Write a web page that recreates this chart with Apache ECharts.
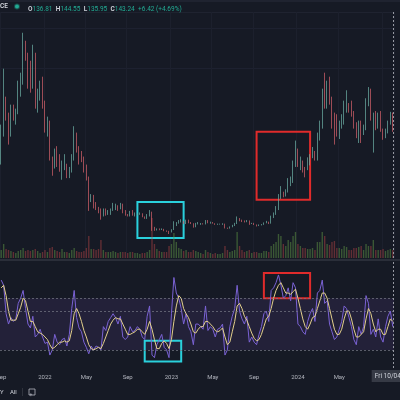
<!DOCTYPE html>
<html>
<head>
<meta charset="utf-8">
<title>SOL / USD</title>
<script src="https://cdn.jsdelivr.net/npm/echarts@6/dist/echarts.min.js"></script>
<style>
  html, body { margin: 0; padding: 0; background: #161a25; }
  #chart { width: 400px; height: 400px; }
</style>
</head>
<body>
<div id="chart"></div>
<script>
// weekly bars (Fridays), 2021-09-03 .. 2024-10-04
const firstOpen = 110
const closes = [
  135,175,160,140,165,155,160,195,200,250,235,210,195,230,175,180,190,170,
  145,145,105,95,112,95,90,92,92,82,88,105,125,113,105,100,90,78,52,52,
  42,40,38,32,38,33,36,38,42,43,40,45,37,32,31,35,32,32,33,33,
  30,28,31,35,16,13,14,13.5,14,12,11.5,10,
  13.5,21,22,24,24,21,25,22,21,17,21,21,21,20.5,25,22,22,21.5,20,20.5,
  20.5,21,15.5,15,17,19,21,27,25,24,23,24.5,21,21,19.5,19,19,20,22,23,
  21.5,29,33,40,56,60,58,62,73,73,95,105,
  95,95,92,90,98,105,112,103,130,145,185,175,190,175,160,145,140,145,150,170,
  170,168,162,145,135,145,137,142,175,180,155,155,143,155,140,130,138,148,158,143.24
]
const highs = [
  145,215,180,160,170,170,165,200,210,260,250,235,225,245,235,190,200,205,
  175,155,150,105,115,118,108,100,108,96,92,108,143,135,118,112,105,95,80,58,
  57,48,42,40,40,40,38,40,47,46,44,47,46,38,33,37,38,35,34,35,
  34,30,33,38,36,17,15,15,15,14.5,12.5,12,
  14,24,23,25.5,26.5,24.5,26,26,23,21.5,22,23,21.8,21.5,25.5,25.5,23.5,23,21.5,21,
  21,21.5,21,16,17.5,19.5,22,30,28,26,25,25.5,25,22,22,20,20,20.5,22.5,24.5,
  23.5,31,35,43,58,68,61,64,78,80,100,125,
  115,105,100,92,104,108,117,112,135,150,190,210,200,205,180,160,158,150,158,175,
  188,172,175,162,148,150,150,145,178,192,190,160,162,160,162,140,140,150,161,160
]
const lows = [
  95,130,150,120,130,150,145,158,180,195,225,190,185,190,165,160,175,165,
  135,130,100,81,90,92,86,76,88,78,78,85,100,110,95,98,85,75,37,48,
  40,38,34,26,30,31,32,32,37,38,37,39,34,31,30,30,31,30,31,32,
  29,27,27,30,12,12,12.5,12.8,13,11.5,10.8,8,
  10,13,18,21,22.5,20.5,20.5,21.5,20.5,16,16.5,20,19.5,20,20,21.5,21,21,19.5,19.5,
  19.8,19.5,15,14.5,14.8,16.5,18,20.5,24,23,22.5,22.8,19.5,20.5,19.3,17.5,18,18.8,19.5,21.5,
  20.5,21,28,32,38,52,54,55,60,68,72,92,
  92,88,85,79,88,94,103,100,100,125,140,165,165,170,140,120,130,127,140,145,
  160,160,155,140,128,122,122,132,138,168,150,110,138,140,136,126,128,134,145,136
]
const volumes = [
  8,14,9,8,7,6,5,7,8,10,7,8,7,8,9,7,5,6,
  8,6,10,11,8,7,6,9,6,6,5,8,10,7,6,6,7,10,22,9,
  9,8,9,18,8,6,6,6,7,6,5,6,6,6,5,6,6,5,5,4,
  5,5,6,8,40,14,9,7,6,6,6,12,
  14,25,16,10,9,7,8,6,6,8,7,6,5,4,8,6,5,4,5,4,
  4,5,12,8,6,7,8,26,12,8,6,7,8,5,6,6,5,5,7,7,
  6,12,14,16,24,22,14,12,18,16,22,26,
  14,12,10,10,9,9,10,8,16,16,26,22,14,13,16,17,10,10,9,12,
  11,8,8,10,10,11,12,8,14,12,12,18,8,8,8,9,7,8,9,8
]
const rsi = [
  84,80,58,50,55,52,54,66,70,76,62,50,47,56,40,42,46,40,
  35,36,26,30,42,36,34,38,39,33,42,62,76,55,47,44,36,32,27,33,
  30,33,32,30,48,45,52,55,58,55,50,56,40,38,40,48,44,45,48,46,
  40,38,56,64,26,24,34,38,42,32,30,24,
  58,86,74,70,62,50,58,48,44,34,50,50,48,46,64,45,48,46,40,46,
  47,50,26,30,48,56,62,80,60,54,50,56,36,40,36,34,42,48,58,60,
  52,76,78,82,88,80,70,72,78,68,82,78,
  50,48,44,42,52,58,62,52,74,76,84,66,68,50,44,38,40,46,52,64,
  62,55,48,38,34,48,42,48,72,66,42,46,40,54,40,36,48,56,60,48
]
const rsiMa = [
  78,80,72,60,53,53,53,58,63,70,68,60,52,52,48,44,43,42,
  40,38,34,31,32,34,36,36,37,36,37,45,58,62,58,52,45,40,34,31,
  30,31,32,31,35,40,45,50,53,55,54,54,50,46,42,42,43,44,46,46,
  44,42,46,52,46,38,31,31,35,37,35,31,
  38,52,64,72,70,62,58,55,50,44,43,46,48,48,52,52,50,48,45,44,
  45,47,40,34,36,44,52,64,66,62,56,53,48,43,39,37,38,42,48,54,
  56,62,70,76,80,82,78,74,74,73,75,77,
  70,62,54,48,46,50,55,56,62,68,74,74,70,62,54,46,42,42,46,54,
  60,60,54,46,40,40,42,44,54,62,58,50,44,46,46,42,42,48,54,52
]
const rsiLevels = [70, 60, 30]
const labelMonths = [0, 4, 8]
const monthNames = ['Jan','Feb','Mar','Apr','May','Jun','Jul','Aug','Sep','Oct','Nov','Dec']
const lastBar = { o: '136.81', h: '144.55', l: '135.95', c: '143.24', chg: '+6.42 (+4.69%)' }
const crossLabel = 'Fri 10/04/24'

// drawn boxes: [first bar, last bar, low, high]
const priceBoxes = [[56, 75, 3, 48, '#2ad0dc'], [105, 127, 51, 136, '#e02b2b']]
const rsiBoxes = [[59, 74, 21, 37, '#2ad0dc'], [108, 127, 70, 89.5, '#e02b2b']]

const dates = closes.map((c, i) => new Date(Date.UTC(2021, 8, 3 + 7 * i)).toISOString().slice(0, 10))
const opens = closes.map((c, i) => i === 0 ? firstOpen : closes[i - 1])
const candles = closes.map((c, i) => [opens[i], c, lows[i], highs[i]])

const upColor = '#6fb3a8'
const downColor = '#d9636b'
const volData = volumes.map((v, i) => ({
  value: v,
  itemStyle: { color: closes[i] >= opens[i] ? 'rgba(96,150,70,0.5)' : 'rgba(190,70,70,0.45)' }
}))

const showTick = (idx, val) => {
  const d = new Date(val)
  return d.getUTCDate() <= 7 && labelMonths.includes(d.getUTCMonth())
}
const tickText = (val) => {
  const d = new Date(val)
  return d.getUTCMonth() === 0 ? String(d.getUTCFullYear()) : monthNames[d.getUTCMonth()]
}

const boxArea = (boxes) => ({
  silent: true,
  data: boxes.map(b => [
    { xAxis: dates[b[0]], yAxis: b[3], itemStyle: { color: 'rgba(0,0,0,0)', borderColor: b[4], borderWidth: 2 } },
    { xAxis: dates[b[1]], yAxis: b[2] }
  ])
})

const lastDate = dates[dates.length - 1]

const option = {
  backgroundColor: '#161a25',
  animation: false,
  textStyle: { fontFamily: 'Roboto' },
  grid: [
    { left: 0, right: 6, top: 12, height: 246, outerBoundsMode: 'none' },
    { left: 0, right: 6, top: 200, height: 58, outerBoundsMode: 'none' },
    { left: 0, right: 6, top: 262, height: 106, outerBoundsMode: 'none' }
  ],
  xAxis: [
    {
      type: 'category', gridIndex: 0, data: dates,
      axisLine: { show: false }, axisTick: { show: false }, axisLabel: { show: false },
      splitLine: { show: true, interval: showTick, lineStyle: { color: '#1c202d' } }
    },
    {
      type: 'category', gridIndex: 1, data: dates,
      axisLine: { show: false }, axisTick: { show: false }, axisLabel: { show: false }
    },
    {
      type: 'category', gridIndex: 2, data: dates,
      axisLine: { show: false }, axisTick: { show: false },
      axisLabel: {
        interval: showTick, formatter: tickText, color: '#b2b5be',
        fontSize: 6, margin: 6
      }
    }
  ],
  yAxis: [
    { gridIndex: 0, min: -22, max: 286, show: false },
    { gridIndex: 1, min: 0, max: 58, show: false },
    { gridIndex: 2, min: 16, max: 98, show: false }
  ],
  series: [
    {
      type: 'bar', xAxisIndex: 1, yAxisIndex: 1, data: volData,
      barWidth: 1.4, silent: true
    },
    {
      type: 'candlestick', xAxisIndex: 0, yAxisIndex: 0, data: candles,
      barWidth: 0.6,
      itemStyle: {
        color: upColor, color0: downColor,
        borderColor: upColor, borderColor0: downColor, borderWidth: 0.7
      },
      markArea: boxArea(priceBoxes),
      markLine: {
        silent: true, symbol: 'none', label: { show: false },
        lineStyle: { color: '#9598a1', type: [2, 2], width: 1 },
        data: [{ xAxis: lastDate }]
      }
    },
    {
      type: 'line', xAxisIndex: 2, yAxisIndex: 2, data: rsi,
      symbol: 'none', lineStyle: { color: '#7a62d4', width: 1 },
      markArea: {
        silent: true,
        itemStyle: { color: 'rgba(126,87,194,0.13)' },
        data: [[{ yAxis: rsiLevels[0] }, { yAxis: rsiLevels[2] }]]
      },
      markLine: {
        silent: true, symbol: 'none',
        label: { show: false },
        lineStyle: { color: '#787b86', type: [2, 2], width: 1, opacity: 0.7 },
        data: rsiLevels.map(v => ({ yAxis: v })).concat([{
          xAxis: lastDate,
          lineStyle: { color: '#9598a1', type: [2, 2], opacity: 1 },
          label: {
            show: true, position: 'start', formatter: crossLabel,
            color: '#d1d4dc', fontSize: 6.5, backgroundColor: '#363a45',
            padding: [3, 3, 2, 3], distance: 2
          }
        }])
      }
    },
    {
      type: 'line', xAxisIndex: 2, yAxisIndex: 2, data: rsiMa,
      symbol: 'none', lineStyle: { color: '#e3d08c', width: 1 },
      markArea: boxArea(rsiBoxes)
    }
  ],
  graphic: [
    { type: 'rect', shape: { x: 0, y: 0, width: 400, height: 2 }, style: { fill: '#1f2330' }, silent: true },
    { type: 'rect', shape: { x: 0, y: 12, width: 394, height: 1 }, style: { fill: '#1f2330' }, silent: true },
    { type: 'rect', shape: { x: 0, y: 28, width: 394, height: 1 }, style: { fill: '#1d2130' }, silent: true },
    { type: 'rect', shape: { x: 0, y: 68, width: 394, height: 1 }, style: { fill: '#1d2130' }, silent: true },
    { type: 'rect', shape: { x: 0, y: 259, width: 400, height: 2 }, style: { fill: '#2a2e39' }, silent: true },
    {
      type: 'text', x: 0, y: 3, silent: true,
      style: { text: 'CE', fill: '#d1d4dc', font: '600 6.5px Roboto' }
    },
    {
      type: 'circle', shape: { cx: 17, cy: 6.5, r: 2 }, silent: true,
      style: { fill: '#22ab94', stroke: 'rgba(34,171,148,0.35)', lineWidth: 2 }
    },
    {
      type: 'text', x: 28, y: 3, silent: true,
      style: {
        text: '{l|O}{v|' + lastBar.o + '} {l|H}{v|' + lastBar.h + '} {l|L}{v|' + lastBar.l +
          '} {l|C}{v|' + lastBar.c + '} {v|' + lastBar.chg + '}',
        rich: {
          l: { fill: '#d1d4dc', fontSize: 6.5, fontFamily: 'Roboto', fontWeight: 600 },
          v: { fill: '#22ab94', fontSize: 6.5, fontFamily: 'Roboto' }
        }
      }
    },
    {
      type: 'text', x: 0, y: 389, silent: true,
      style: { text: 'Y', fill: '#d1d4dc', font: '6px Roboto' }
    },
    {
      type: 'text', x: 10, y: 389, silent: true,
      style: { text: 'All', fill: '#d1d4dc', font: '6px Roboto' }
    },
    { type: 'rect', shape: { x: 22, y: 388, width: 0.8, height: 8 }, style: { fill: '#363a45' }, silent: true },
    {
      type: 'rect', shape: { x: 29, y: 389, width: 6, height: 6 }, silent: true,
      style: { fill: 'none', stroke: '#b2b5be', lineWidth: 0.8 }
    },
    {
      type: 'text', x: 29.5, y: 392, silent: true,
      style: { text: '+', fill: '#b2b5be', font: '5px Roboto' }
    }
  ]
}

const chart = echarts.init(document.getElementById('chart'))
chart.setOption(option)
window.onresize = () => {
  chart.resize()
}
</script>
</body>
</html>
